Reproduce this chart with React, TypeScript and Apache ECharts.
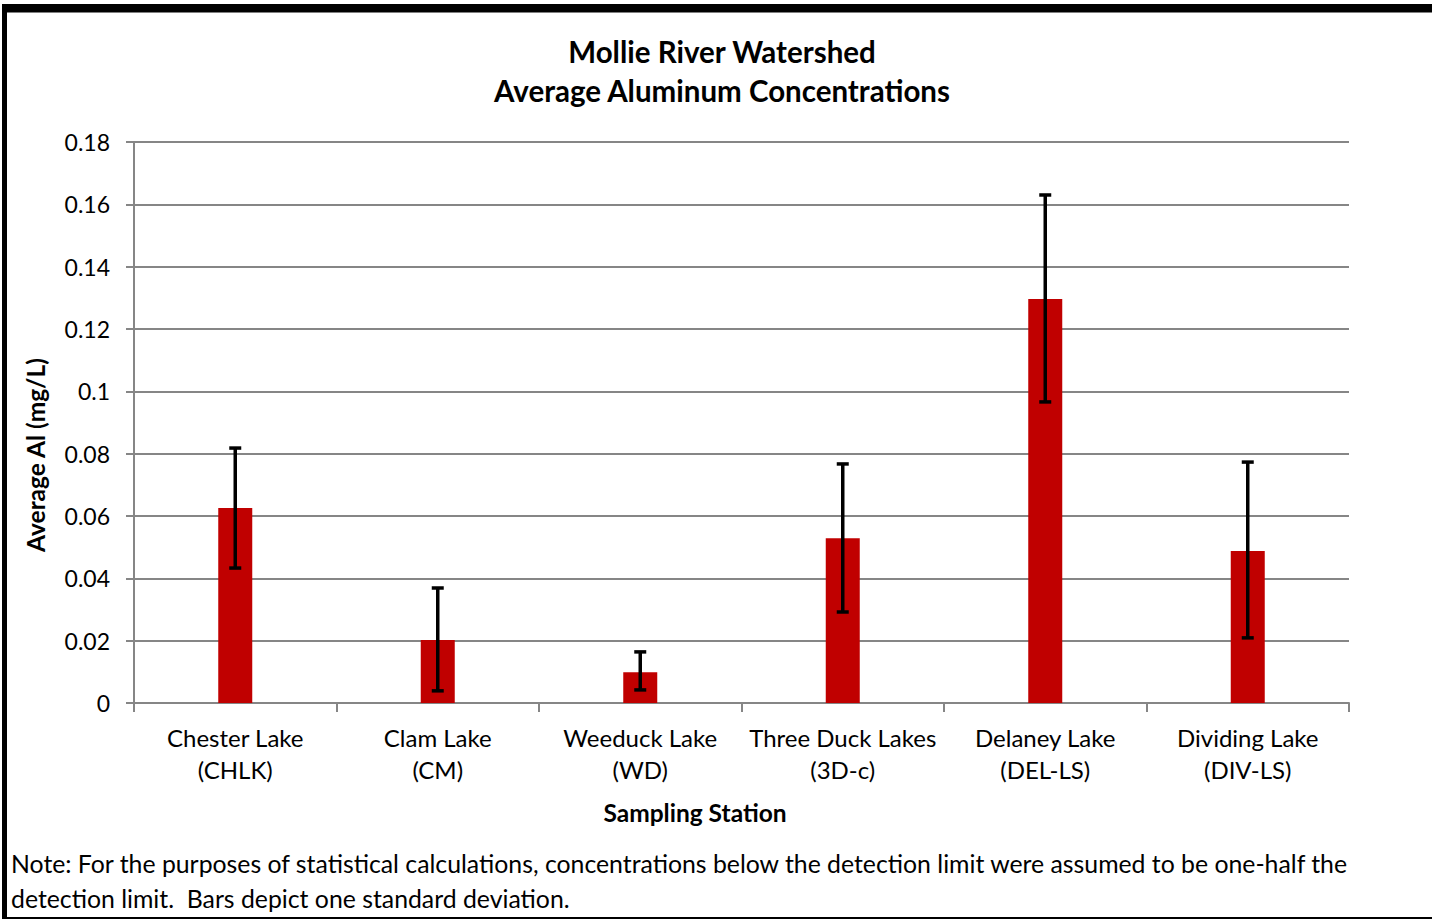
import React, { useEffect, useRef } from "react";
import * as echarts from "echarts";

const categories = [
  "Chester Lake\n(CHLK)",
  "Clam Lake\n(CM)",
  "Weeduck Lake\n(WD)",
  "Three Duck Lakes\n(3D-c)",
  "Delaney Lake\n(DEL-LS)",
  "Dividing Lake\n(DIV-LS)",
];
const averages = [0.0626, 0.0202, 0.0099, 0.0529, 0.1296, 0.0488];
const errLow = [0.0433, 0.0039, 0.0042, 0.0292, 0.0966, 0.0209];
const errHigh = [0.0818, 0.0369, 0.0164, 0.0767, 0.163, 0.0773];
const yTicks = [0, 0.02, 0.04, 0.06, 0.08, 0.1, 0.12, 0.14, 0.16, 0.18];

const FONT = "Lato";

export default function App() {
  const ref = useRef<HTMLDivElement>(null);
  useEffect(() => {
    if (!ref.current) return;
    const chart = echarts.init(ref.current, undefined, { renderer: "svg" });
    const errData = categories.map((_, i) => [i, errLow[i], errHigh[i]]);
    chart.setOption({
      animation: false,
      backgroundColor: "#ffffff",
      textStyle: { fontFamily: FONT },
      title: {
        text: "Mollie River Watershed\nAverage Aluminum Concentrations",
        left: 717,
        top: 27,
        textAlign: "center",
        textStyle: { fontFamily: FONT, fontSize: 29.5, fontWeight: "bold", color: "#000", lineHeight: 39 },
      },
      grid: { left: 134, right: 83, top: 142, bottom: 216 },
      xAxis: {
        type: "category",
        data: categories,
        axisLine: { lineStyle: { color: "#868686", width: 2 } },
        axisTick: { show: true, interval: 0, length: 9, lineStyle: { color: "#868686", width: 2 } },
        axisLabel: { interval: 0, fontFamily: FONT, fontSize: 24, color: "#000", lineHeight: 32, margin: 18 },
      },
      yAxis: {
        type: "value",
        min: 0,
        max: 0.18,
        interval: 0.02,
        axisLine: { show: true, lineStyle: { color: "#868686", width: 2 } },
        axisTick: { show: true, length: 8, lineStyle: { color: "#868686", width: 2 } },
        splitLine: { lineStyle: { color: "#868686", width: 2 } },
        axisLabel: {
          fontFamily: FONT,
          fontSize: 23,
          color: "#000",
          margin: 24,
          formatter: (v: number) => {
            const t = yTicks.find((x) => Math.abs(x - v) < 1e-9);
            return String(t !== undefined ? parseFloat(t.toFixed(2)) : v);
          },
        },
      },
      series: [
        {
          type: "bar",
          data: averages,
          barWidth: 34,
          itemStyle: { color: "#c00000" },
          z: 2,
        },
        {
          type: "custom",
          data: errData,
          z: 3,
          renderItem: (params: any, api: any) => {
            const x = api.value(0);
            const lo = api.coord([x, api.value(1)]);
            const hi = api.coord([x, api.value(2)]);
            const cap = 6;
            const style = { stroke: "#000", lineWidth: 3.5 };
            return {
              type: "group",
              children: [
                { type: "line", shape: { x1: lo[0], y1: lo[1], x2: hi[0], y2: hi[1] }, style },
                { type: "line", shape: { x1: lo[0] - cap, y1: lo[1], x2: lo[0] + cap, y2: lo[1] }, style },
                { type: "line", shape: { x1: hi[0] - cap, y1: hi[1], x2: hi[0] + cap, y2: hi[1] }, style },
              ],
            };
          },
        },
      ],
      graphic: [
        { type: "rect", shape: { x: 2, y: 4, width: 1430, height: 8.5 }, style: { fill: "#000" } },
        { type: "rect", shape: { x: 2, y: 4, width: 5, height: 915 }, style: { fill: "#000" } },
        { type: "rect", shape: { x: 2, y: 917, width: 1430, height: 2 }, style: { fill: "#000" } },
        {
          type: "text",
          x: 35,
          y: 455,
          rotation: Math.PI / 2,
          style: {
            text: "Average Al (mg/L)",
            fontFamily: FONT,
            fontSize: 24.5,
            fontWeight: "bold",
            fill: "#000",
            align: "center",
            verticalAlign: "middle",
          },
        },
        {
          type: "text",
          x: 695,
          y: 812,
          style: {
            text: "Sampling Station",
            fontFamily: FONT,
            fontSize: 24.5,
            fontWeight: "bold",
            fill: "#000",
            align: "center",
            verticalAlign: "middle",
          },
        },
        {
          type: "text",
          x: 11,
          y: 863,
          style: {
            text: "Note: For the purposes of statistical calculations, concentrations below the detection limit were assumed to be one-half the",
            fontFamily: FONT,
            fontSize: 24.8,
            fill: "#000",
            align: "left",
            verticalAlign: "middle",
          },
        },
        {
          type: "text",
          x: 11,
          y: 898,
          style: {
            text: "detection limit.  Bars depict one standard deviation.",
            fontFamily: FONT,
            fontSize: 24.8,
            fill: "#000",
            align: "left",
            verticalAlign: "middle",
          },
        },
      ],
    });
    return () => chart.dispose();
  }, []);
  return (
    <div
      ref={ref}
      style={{ position: "fixed", left: 0, top: 0, width: 1432, height: 919 }}
    />
  );
}
